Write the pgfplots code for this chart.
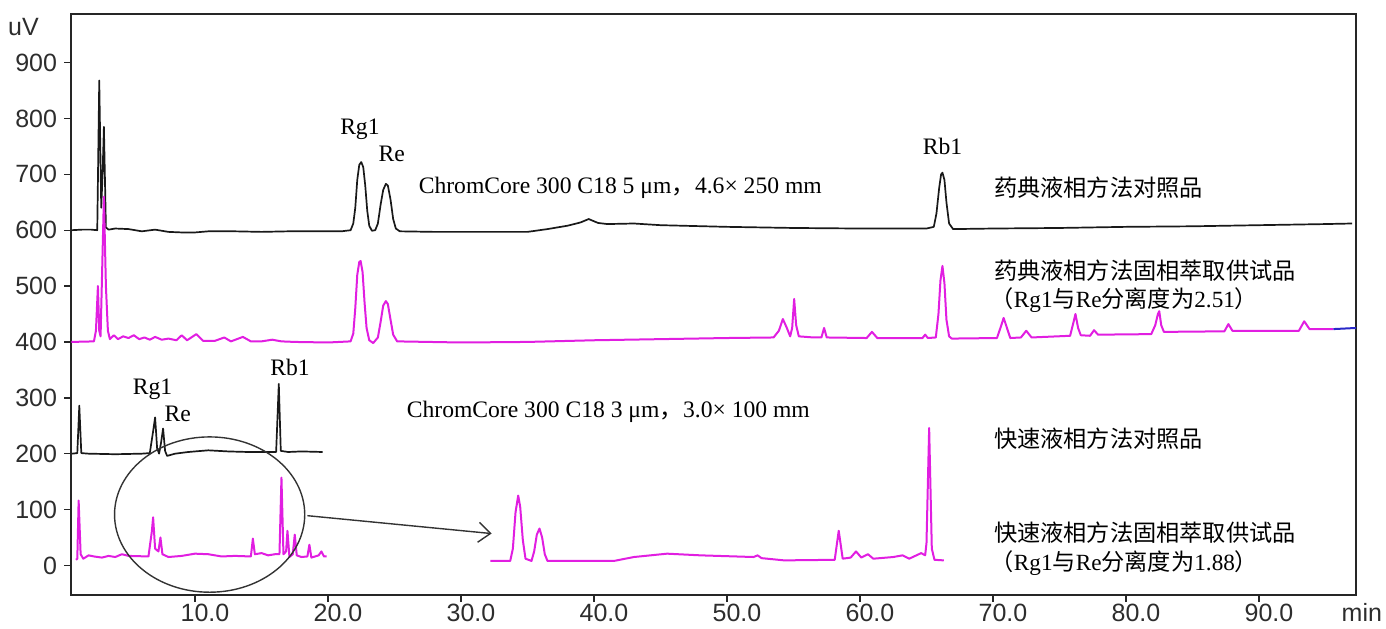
\documentclass[border=0pt]{standalone}
\usepackage{pgfplots}
\pgfplotsset{compat=1.18}
\usepackage{fontspec}
\setmainfont{Liberation Sans}
\newfontfamily\serif{Liberation Serif}
\newfontfamily\cjk{Noto Sans CJK SC}
\usetikzlibrary{arrows.meta}

\definecolor{mag}{RGB}{225,30,225}
\definecolor{trace}{RGB}{25,25,25}
\definecolor{tail}{RGB}{40,40,200}
\definecolor{tick}{RGB}{45,45,45}

% annotation styles
\tikzset{
  pk/.style={font=\serif\fontsize{11.8}{13}\selectfont, inner sep=0pt},
  cn/.style={font=\cjk\fontsize{11.6}{13}\selectfont, anchor=west, inner sep=0pt},
}

\begin{document}
\begin{tikzpicture}
\begin{axis}[
  scale only axis,
  width=642.5pt, height=290.5pt,
  xmin=0.68, xmax=97.3,
  ymin=-53, ymax=987,
  clip=false,
  xtick={10,20,...,90},
  ytick={0,100,...,900},
  xticklabel style={/pgf/number format/fixed, /pgf/number format/fixed zerofill, /pgf/number format/precision=1, xshift=5pt, yshift=2.5pt},
  /pgf/number format/assume math mode=true,
  tick label style={font=\fontsize{12.5}{14}\selectfont, text=tick},
  tick align=outside,
  tick pos=left,
  major tick length=3.5pt,
  axis line style={line width=0.8pt, black!85},
  every tick/.style={black!85, line width=0.7pt},
  every axis plot/.append style={line width=0.85pt, line join=round},
]

% 药典液相方法对照品 (black, baseline 600)
\addplot[trace] coordinates {
 (0.7,600)(1.5,601)(2.2,601)(2.65,600)(2.8,868)(2.95,640)(3.05,700)(3.15,785)(3.3,605)(3.5,601)
 (4,603)(5,602)(6,598)(7,601)(8,597)(9,596)(10,596)(11,598)(13,598)(15,597)(17,598)(19,598)(21,598)
 (21.7,600)(21.9,612)(22.05,640)(22.2,690)(22.35,717)(22.5,722)(22.65,713)(22.8,680)(22.95,635)(23.1,608)(23.3,599)(23.55,600)
 (23.75,612)(23.95,645)(24.15,672)(24.35,683)(24.5,680)(24.7,655)(24.9,620)(25.1,603)(25.4,598)
 (28,597)(31,597)(35,597)(36.5,602)(38,608)(39,614)(39.6,620)(40.3,613)(41,611)(43,612)(45,609)(50,606)(55,604)(60,603)(65,603)
 (65.55,606)(65.75,630)(65.95,675)(66.1,700)(66.2,703)(66.35,690)(66.5,650)(66.7,612)(67,602)
 (70,603)(75,604)(80,606)(85,607)(90,609)(95,611)(97,612)
};

% 药典液相方法固相萃取供试品 (magenta, baseline 400)
\addplot[mag, line width=1pt] coordinates {
 (0.7,400)(2.4,401)(2.55,420)(2.7,500)(2.8,420)(2.9,410)(3.05,560)(3.15,660)(3.3,500)(3.45,420)(3.6,405)
 (3.9,412)(4.2,405)(4.6,410)(5.0,407)(5.4,412)(5.8,405)(6.2,408)(6.6,404)(7,409)(7.5,404)(8,406)(8.6,403)
 (9,412)(9.4,403)(10.1,414)(10.6,402)(11.5,402)(12.2,408)(12.7,401)(13.6,409)(14.2,401)(15,401)(15.8,404)(16.5,401)
 (17.5,400)(20,399)(21.7,401)(21.9,415)(22.05,460)(22.2,520)(22.35,543)(22.45,545)(22.6,525)(22.75,470)(22.9,425)(23.1,403)(23.4,398)
 (23.75,408)(23.95,435)(24.15,465)(24.35,473)(24.5,468)(24.7,440)(24.9,413)(25.2,401)
 (30,399)(35,400)(40,403)(45,405)(50,407)(53.5,408)(53.9,420)(54.2,441)(54.5,425)(54.75,410)(54.9,425)(55.05,477)(55.2,430)(55.4,410)
 (56.5,408)(57.1,408)(57.3,425)(57.5,408)(60.5,407)(60.9,418)(61.3,407)(64.7,407)(64.9,413)(65.1,407)
 (65.7,408)(65.9,450)(66.05,510)(66.2,536)(66.35,505)(66.5,440)(66.7,410)(66.9,406)
 (70.3,407)(70.6,428)(70.8,443)(71.05,425)(71.3,407)
 (72.1,408)(72.5,420)(72.9,408)(75.8,411)(76.05,435)(76.2,450)(76.4,425)(76.6,412)(77.3,411)(77.6,421)(77.9,413)
 (81.9,414)(82.2,430)(82.4,450)(82.5,455)(82.65,430)(82.85,418)(87.4,419)(87.7,432)(88.0,420)(93.0,420)(93.4,437)(93.8,423)(95.6,423)
};
\addplot[tail, line width=1pt] coordinates {(95.6,423)(97.3,425)};

% 快速液相方法对照品 (black, baseline 200)
\addplot[trace] coordinates {
 (0.75,200)(1.15,201)(1.3,286)(1.45,201)(2,200)(4,199)(6,200)(6.6,201)(6.85,240)(7.0,265)(7.15,210)(7.3,200)
 (7.45,220)(7.6,245)(7.75,205)(7.9,196)(8.5,200)(9.5,203)(11,206)(12.5,204)(14,203)(16.1,203)(16.3,325)(16.45,205)
 (17,203)(18,204)(19.6,203)
};

% 快速液相方法固相萃取供试品 (magenta, baseline 15)
\addplot[mag, line width=1pt] coordinates {
 (1.05,10)(1.15,12)(1.25,116)(1.4,20)(1.6,12)(2,18)(2.4,16)(3,14)(3.5,17)(4,15)(4.5,20)(5,17)(6.5,16)
 (6.75,60)(6.85,86)(7.0,30)(7.25,25)(7.4,50)(7.55,20)(8,15)(9,17)(10,21)(11,20)(12,16)(13,17)(14.2,16)
 (14.35,48)(14.5,20)(15,22)(15.5,18)(16.0,20)(16.35,20)(16.5,157)(16.65,20)(16.85,25)(16.95,62)(17.1,15)
 (17.35,20)(17.5,55)(17.65,18)(18,15)(18.45,16)(18.6,37)(18.75,14)(19.3,18)(19.5,25)(19.7,16)(19.9,16)
};

% expanded view of the fast sample
\addplot[mag, line width=1pt] coordinates {
 (32.2,8)(33.7,8)(33.9,30)(34.1,95)(34.3,125)(34.45,105)(34.65,45)(34.85,12)(35.3,8)
 (35.5,25)(35.7,55)(35.9,66)(36.1,50)(36.3,20)(36.5,8)
 (41.5,8)(43,15)(45.5,21)(48,18)(52,15)(52.3,18)(52.6,13)(54.3,9)(58.1,10)(58.4,62)(58.7,12)(59.3,14)
 (59.7,25)(60.1,14)(60.6,20)(61,12)(62.5,15)(63.2,18)(63.7,12)(64.6,22)(64.9,18)(65.0,40)(65.2,246)
 (65.4,30)(65.6,10)(66.3,9)
};

% ellipse and arrow
\draw[black!80, line width=0.7pt] (axis cs:11.1,91) ellipse [x radius=7.15, y radius=139];
\draw[black!80, line width=0.7pt, -{Straight Barb[length=6pt,width=10pt]}] (axis cs:18.45,89) -- (axis cs:32.3,57);

% labels
\node[pk] at (axis cs:22.4,780) {Rg1};
\node[pk] at (axis cs:24.8,737) {Re};
\node[pk] at (axis cs:66.2,750) {Rb1};
\node[pk, anchor=west] at (axis cs:26.8,675) {ChromCore 300 C18 5 μm{\cjk ，}4.6× 250 mm};
\node[pk] at (axis cs:6.8,316) {Rg1};
\node[pk] at (axis cs:8.7,271) {Re};
\node[pk] at (axis cs:17.15,354) {Rb1};
\node[pk, anchor=west] at (axis cs:25.9,275) {ChromCore 300 C18 3 μm{\cjk ，}3.0× 100 mm};

\node[cn] at (axis cs:70.05,677) {药典液相方法对照品};
\node[cn] at (axis cs:70.05,527) {药典液相方法固相萃取供试品};
\node[cn] at (axis cs:69.8,475) {（{\serif Rg1}与{\serif Re}分离度为{\serif 2.51}）};
\node[cn] at (axis cs:70.05,227) {快速液相方法对照品};
\node[cn] at (axis cs:70.05,59) {快速液相方法固相萃取供试品};
\node[cn] at (axis cs:69.8,5) {（{\serif Rg1}与{\serif Re}分离度为{\serif 1.88}）};

\node[font=\fontsize{12.5}{14}\selectfont, text=tick] at (rel axis cs:-0.037,0.978) {uV};
\node[font=\fontsize{12.5}{14}\selectfont, text=tick, anchor=east, inner sep=0pt] at (rel axis cs:1.0205,-0.03) {min};

\coordinate (bl) at (rel axis cs:-0.0553,-0.0568);
\coordinate (tr) at (rel axis cs:1.0233,1.0241);
\end{axis}
\pgfresetboundingbox
\path[use as bounding box] (bl) rectangle (tr);
\end{tikzpicture}
\end{document}
